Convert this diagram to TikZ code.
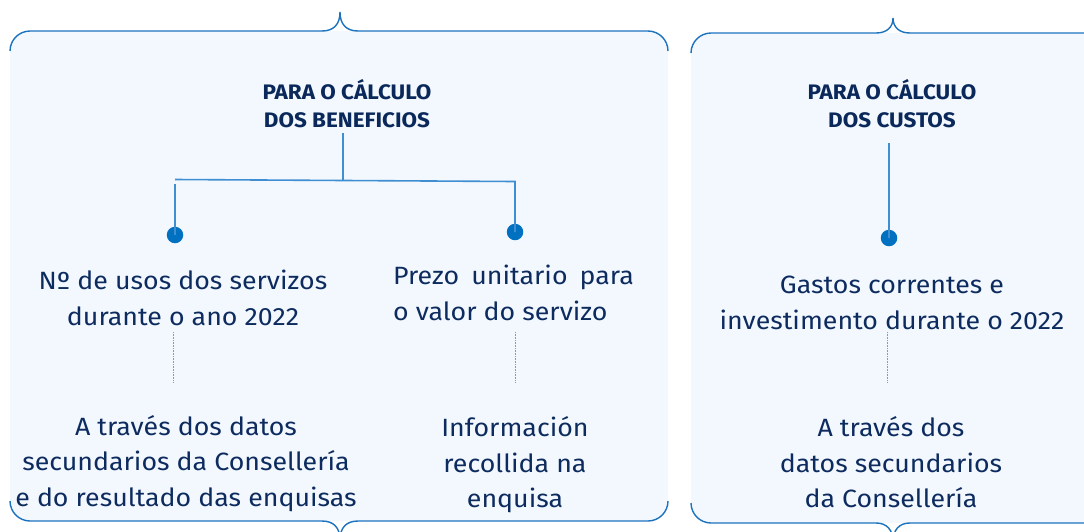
\documentclass[tikz,border=0pt]{standalone}
\usepackage{fontspec}
\setmainfont[FakeStretch=1.07]{Fira Sans}
\definecolor{panelfill}{HTML}{F2F8FE}
\definecolor{panelline}{HTML}{1B72BE}
\definecolor{connline}{HTML}{3F8ED2}
\definecolor{dotblue}{HTML}{0070C0}
\definecolor{navy}{HTML}{0D2B5E}
\definecolor{titlenavy}{HTML}{0A285A}
\tikzset{
  border/.style={draw=panelline, line width=1.4pt},
  conn/.style={draw=connline, line width=1.6pt},
  dotline/.style={draw=connline!80, line width=0.9pt, dash pattern=on 0.8pt off 0.8pt},
  bullet/.style={circle, fill=dotblue, minimum size=16.5pt, inner sep=0pt},
  titletext/.style={text=titlenavy, font=\bfseries\fontsize{21}{28}\selectfont, align=center, inner sep=0pt},
  bodytext/.style={text=navy, font=\fontsize{25}{35.5}\selectfont, align=center, inner sep=0pt},
}
\begin{document}
\begin{tikzpicture}[x=1pt, y=-1pt]
\useasboundingbox (0,0) rectangle (1084,531);
\clip (0,0) rectangle (1084,531);
% left panel fill
\fill[panelfill, rounded corners=20pt] (10,31) rectangle (668,521);
% left panel top border with brace
\draw[border] (10,51) .. controls (10,40) and (19,31) .. (30,31) -- (322,31)
  .. controls (334,31) and (340,24) .. (340,12)
  .. controls (340,24) and (346,31) .. (358,31) -- (648,31)
  .. controls (659,31) and (668,40) .. (668,51);
% left panel bottom border with brace
\draw[border] (10,501) .. controls (10,512) and (19,521) .. (30,521) -- (322,521)
  .. controls (334,521) and (340,528) .. (340,540)
  .. controls (340,528) and (346,521) .. (358,521) -- (648,521)
  .. controls (659,521) and (668,512) .. (668,501);
% right panel fill
\fill[panelfill, rounded corners=20pt] (691,33) rectangle (1120,523);
\draw[border] (691,53) .. controls (691,42) and (700,33) .. (711,33) -- (876,33)
  .. controls (887,33) and (893,27) .. (893,18)
  .. controls (893,27) and (899,33) .. (910,33) -- (1100,33);
\draw[border] (691,503) .. controls (691,514) and (700,523) .. (711,523) -- (876,523)
  .. controls (887,523) and (893,530) .. (893,542)
  .. controls (893,530) and (899,523) .. (910,523) -- (1100,523);

% ---- left: benefits ----
\node[titletext] (tb) at (347,104) {PARA O CÁLCULO\\DOS BENEFICIOS};
\coordinate (tbs) at (343,133);
\coordinate (jb) at (343,180.5);
\coordinate (hl) at (175,179.5);
\coordinate (hr) at (515,181.5);
\coordinate (vl) at (175,184);
\node[bullet] (b1) at (175,235) {};
\node[bullet] (b2) at (515,232) {};
\draw[conn] (tbs) -- (jb);
\draw[conn] (hl) -- (hr) -- (b2.center);
\draw[conn] (vl) -- (b1.center);

\node[bodytext] (u1) at (183,298) {Nº de usos dos servizos\\durante o ano 2022};
\node[bodytext, align=left, anchor=west] (u2) at (393,293) {Prezo\hspace{0.2em} unitario\hspace{0.2em} para\\o valor do servizo};
\coordinate (d1a) at (173,332);
\coordinate (d1b) at (173,382);
\coordinate (d2a) at (515,332);
\coordinate (d2b) at (515,382);
\draw[dotline] (d1a) -- (d1b);
\draw[dotline] (d2a) -- (d2b);
\node[bodytext] (s1) at (186,463.5) {A través dos datos\\secundarios da Consellería\\e do resultado das enquisas};
\node[bodytext] (s2) at (515,465) {Información\\recollida na\\enquisa};

% ---- right: costs ----
\node[titletext] (tc) at (892,104) {PARA O CÁLCULO\\DOS CUSTOS};
\coordinate (tcs) at (889,143);
\node[bullet] (b3) at (889,238) {};
\draw[conn] (tcs) -- (b3.center);
\node[bodytext] (u3) at (892,303) {Gastos correntes e\\investimento durante o 2022};
\coordinate (d3a) at (887,332);
\coordinate (d3b) at (887,382);
\draw[dotline] (d3a) -- (d3b);
\node[bodytext] (s3) at (891,462.5) {A través dos\\datos secundarios\\da Consellería};
\end{tikzpicture}
\end{document}
